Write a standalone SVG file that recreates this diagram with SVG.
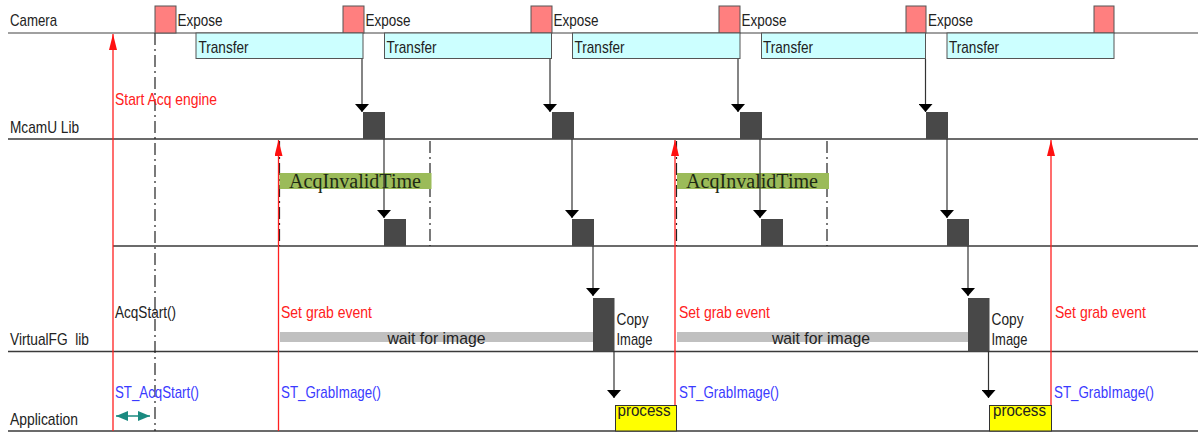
<svg xmlns="http://www.w3.org/2000/svg" width="1199" height="433" viewBox="0 0 1199 433">
<style>
text{font-family:"Liberation Sans",Arial,sans-serif;font-size:17px;fill:#222}
.red{fill:#ff2020}
.blue{fill:#3a3aff}
.serif{font-family:"Liberation Serif","Times New Roman",serif;font-size:20px;fill:#1e2a14}
.lane{stroke:#3a3a3a;stroke-width:1.5;fill:none}
.exp{fill:#ff7f7f;stroke:#555;stroke-width:1}
.tr{fill:#ccffff;stroke:#555;stroke-width:1}
.blk{fill:#484848}
.green{fill:#9bbb59}
.wait{fill:#c0c0c0}
.proc{fill:#ffff00;stroke:#333;stroke-width:1}
.arr{stroke:#333;stroke-width:1.2;fill:none;marker-end:url(#ah)}
.rarr{stroke:#ff2020;stroke-width:1.3;fill:none}
.dd{stroke:#222;stroke-width:1.2;fill:none;stroke-dasharray:12 4 2 4}
</style>
<defs>
<marker id="ah" viewBox="0 0 8 14" refX="8" refY="7" markerWidth="8" markerHeight="14" markerUnits="userSpaceOnUse" orient="auto">
<path d="M0,0 L8,7 L0,14 z" fill="#000"/>
</marker>
<marker id="rah" viewBox="0 0 16 8" refX="16" refY="4" markerWidth="16" markerHeight="8" markerUnits="userSpaceOnUse" orient="auto">
<path d="M0,0 L16,4 L0,8 z" fill="#ff1010"/>
</marker>
<marker id="tah" viewBox="0 0 12 10" refX="12" refY="5" markerWidth="12" markerHeight="10" markerUnits="userSpaceOnUse" orient="auto-start-reverse">
<path d="M0,0 L12,5 L0,10 z" fill="#1a8a80"/>
</marker>
</defs>

<g id="lanes">
<line x1="8" y1="33" x2="1198" y2="33" stroke="#808080" stroke-width="1.6"/>
<line class="lane" x1="8" y1="139" x2="1198" y2="139"/>
<line class="lane" x1="113" y1="246" x2="1198" y2="246"/>
<line class="lane" x1="8" y1="351.5" x2="1198" y2="351.5"/>
<line class="lane" x1="8" y1="431" x2="1198" y2="431"/>
<text x="10" y="26" textLength="47" lengthAdjust="spacingAndGlyphs">Camera</text>
<text x="10" y="133" textLength="69" lengthAdjust="spacingAndGlyphs">McamU Lib</text>
<text x="10" y="345" textLength="79" lengthAdjust="spacingAndGlyphs" xml:space="preserve">VirtualFG  lib</text>
<text x="10" y="425" textLength="68" lengthAdjust="spacingAndGlyphs">Application</text>
</g>

<g id="guides">
<line class="dd" x1="155" y1="33" x2="155" y2="431"/>
<line class="dd" x1="279.5" y1="141" x2="279.5" y2="246"/>
<line class="dd" x1="430" y1="141" x2="430" y2="246"/>
<line class="dd" x1="676.5" y1="141" x2="676.5" y2="246"/>
<line class="dd" x1="827" y1="141" x2="827" y2="246"/>
</g>

<g id="camera-expose">
<rect class="exp" x="155" y="6" width="21" height="27"/>
<rect class="exp" x="343" y="6" width="21" height="27"/>
<rect class="exp" x="531" y="6" width="21" height="27"/>
<rect class="exp" x="719" y="6" width="21" height="27"/>
<rect class="exp" x="906" y="6" width="20" height="27"/>
<rect class="exp" x="1094" y="6" width="20" height="27"/>
<text x="177.5" y="26" textLength="45" lengthAdjust="spacingAndGlyphs">Expose</text>
<text x="365.5" y="26" textLength="45" lengthAdjust="spacingAndGlyphs">Expose</text>
<text x="553.5" y="26" textLength="45" lengthAdjust="spacingAndGlyphs">Expose</text>
<text x="741.5" y="26" textLength="45" lengthAdjust="spacingAndGlyphs">Expose</text>
<text x="928" y="26" textLength="45" lengthAdjust="spacingAndGlyphs">Expose</text>
</g>

<g id="camera-transfer">
<rect class="tr" x="196" y="33" width="167" height="25.5"/>
<rect class="tr" x="384.5" y="33" width="167" height="25.5"/>
<rect class="tr" x="572.5" y="33" width="167.5" height="25.5"/>
<rect class="tr" x="761.5" y="33" width="164" height="25.5"/>
<rect class="tr" x="947" y="33" width="167" height="25.5"/>
<text x="198.5" y="52.5" textLength="50" lengthAdjust="spacingAndGlyphs">Transfer</text>
<text x="386.5" y="52.5" textLength="50" lengthAdjust="spacingAndGlyphs">Transfer</text>
<text x="574.5" y="52.5" textLength="50" lengthAdjust="spacingAndGlyphs">Transfer</text>
<text x="763" y="52.5" textLength="50" lengthAdjust="spacingAndGlyphs">Transfer</text>
<text x="949" y="52.5" textLength="50" lengthAdjust="spacingAndGlyphs">Transfer</text>
</g>

<g id="mcamu-blocks">
<rect class="blk" x="363" y="112" width="22" height="27"/>
<rect class="blk" x="552" y="112" width="22" height="27"/>
<rect class="blk" x="740" y="112" width="22" height="27"/>
<rect class="blk" x="926" y="112" width="22" height="27"/>
</g>

<g id="acq-invalid">
<rect class="green" x="279.5" y="173" width="152" height="16"/>
<rect class="green" x="677" y="173" width="152" height="16"/>
<text class="serif" x="289" y="188" textLength="132" lengthAdjust="spacingAndGlyphs">AcqInvalidTime</text>
<text class="serif" x="686" y="188" textLength="132" lengthAdjust="spacingAndGlyphs">AcqInvalidTime</text>
</g>

<g id="internal-blocks">
<rect class="blk" x="384" y="219" width="22" height="27"/>
<rect class="blk" x="572" y="219" width="22" height="27"/>
<rect class="blk" x="761" y="219" width="22" height="27"/>
<rect class="blk" x="947" y="219" width="22" height="27"/>
</g>

<g id="virtualfg">
<rect class="wait" x="280" y="332" width="313" height="10"/>
<rect class="wait" x="677" y="332" width="291" height="10"/>
<text x="387.5" y="344" textLength="98" lengthAdjust="spacingAndGlyphs">wait for image</text>
<text x="772" y="344" textLength="98" lengthAdjust="spacingAndGlyphs">wait for image</text>
<rect class="blk" x="593" y="298" width="21.5" height="53.5"/>
<rect class="blk" x="968" y="298" width="21.5" height="53.5"/>
<text x="616.5" y="325" textLength="32" lengthAdjust="spacingAndGlyphs">Copy</text>
<text x="616.5" y="345" textLength="36" lengthAdjust="spacingAndGlyphs">Image</text>
<text x="991.5" y="325" textLength="32" lengthAdjust="spacingAndGlyphs">Copy</text>
<text x="991.5" y="345" textLength="36" lengthAdjust="spacingAndGlyphs">Image</text>
</g>

<g id="process">
<rect class="proc" x="615.5" y="405.5" width="61" height="25.5"/>
<rect class="proc" x="989.5" y="405.5" width="62" height="25.5"/>
<text x="617.5" y="416" textLength="53" lengthAdjust="spacingAndGlyphs">process</text>
<text x="993" y="416" textLength="53" lengthAdjust="spacingAndGlyphs">process</text>
</g>

<g id="labels">
<text class="red" x="115" y="105" textLength="102" lengthAdjust="spacingAndGlyphs">Start Acq engine</text>
<text x="115" y="318" textLength="61" lengthAdjust="spacingAndGlyphs">AcqStart()</text>
<text class="red" x="281" y="318" textLength="91" lengthAdjust="spacingAndGlyphs">Set grab event</text>
<text class="red" x="679" y="318" textLength="91" lengthAdjust="spacingAndGlyphs">Set grab event</text>
<text class="red" x="1055" y="318" textLength="91" lengthAdjust="spacingAndGlyphs">Set grab event</text>
<text class="blue" x="115" y="398" textLength="84" lengthAdjust="spacingAndGlyphs">ST_AcqStart()</text>
<text class="blue" x="281" y="398" textLength="100" lengthAdjust="spacingAndGlyphs">ST_GrabImage()</text>
<text class="blue" x="679" y="398" textLength="100" lengthAdjust="spacingAndGlyphs">ST_GrabImage()</text>
<text class="blue" x="1054" y="398" textLength="100" lengthAdjust="spacingAndGlyphs">ST_GrabImage()</text>
</g>

<g id="connectors">
<line class="arr" x1="362" y1="59" x2="362" y2="112"/>
<line class="arr" x1="550" y1="59" x2="550" y2="112"/>
<line class="arr" x1="738" y1="59" x2="738" y2="112"/>
<line class="arr" x1="925.5" y1="59" x2="925.5" y2="112"/>
<line class="arr" x1="384" y1="139" x2="384" y2="218"/>
<line class="arr" x1="572" y1="139" x2="572" y2="218"/>
<line class="arr" x1="760" y1="139" x2="760" y2="218"/>
<line class="arr" x1="947" y1="139" x2="947" y2="218"/>
<line class="arr" x1="593" y1="246" x2="593" y2="296"/>
<line class="arr" x1="968" y1="246" x2="968" y2="296"/>
<line class="arr" x1="614" y1="351" x2="614" y2="398"/>
<line class="arr" x1="988.5" y1="351" x2="988.5" y2="398"/>
<line class="rarr" x1="113" y1="431" x2="113" y2="34" marker-end="url(#rah)"/>
<line class="rarr" x1="278.5" y1="431" x2="278.5" y2="140" marker-end="url(#rah)"/>
<line class="rarr" x1="675" y1="405" x2="675" y2="140" marker-end="url(#rah)"/>
<line class="rarr" x1="1051" y1="405" x2="1051" y2="140" marker-end="url(#rah)"/>
<line x1="116" y1="416" x2="150" y2="416" stroke="#1a8a80" stroke-width="1.5" marker-start="url(#tah)" marker-end="url(#tah)"/>
</g>
</svg>
